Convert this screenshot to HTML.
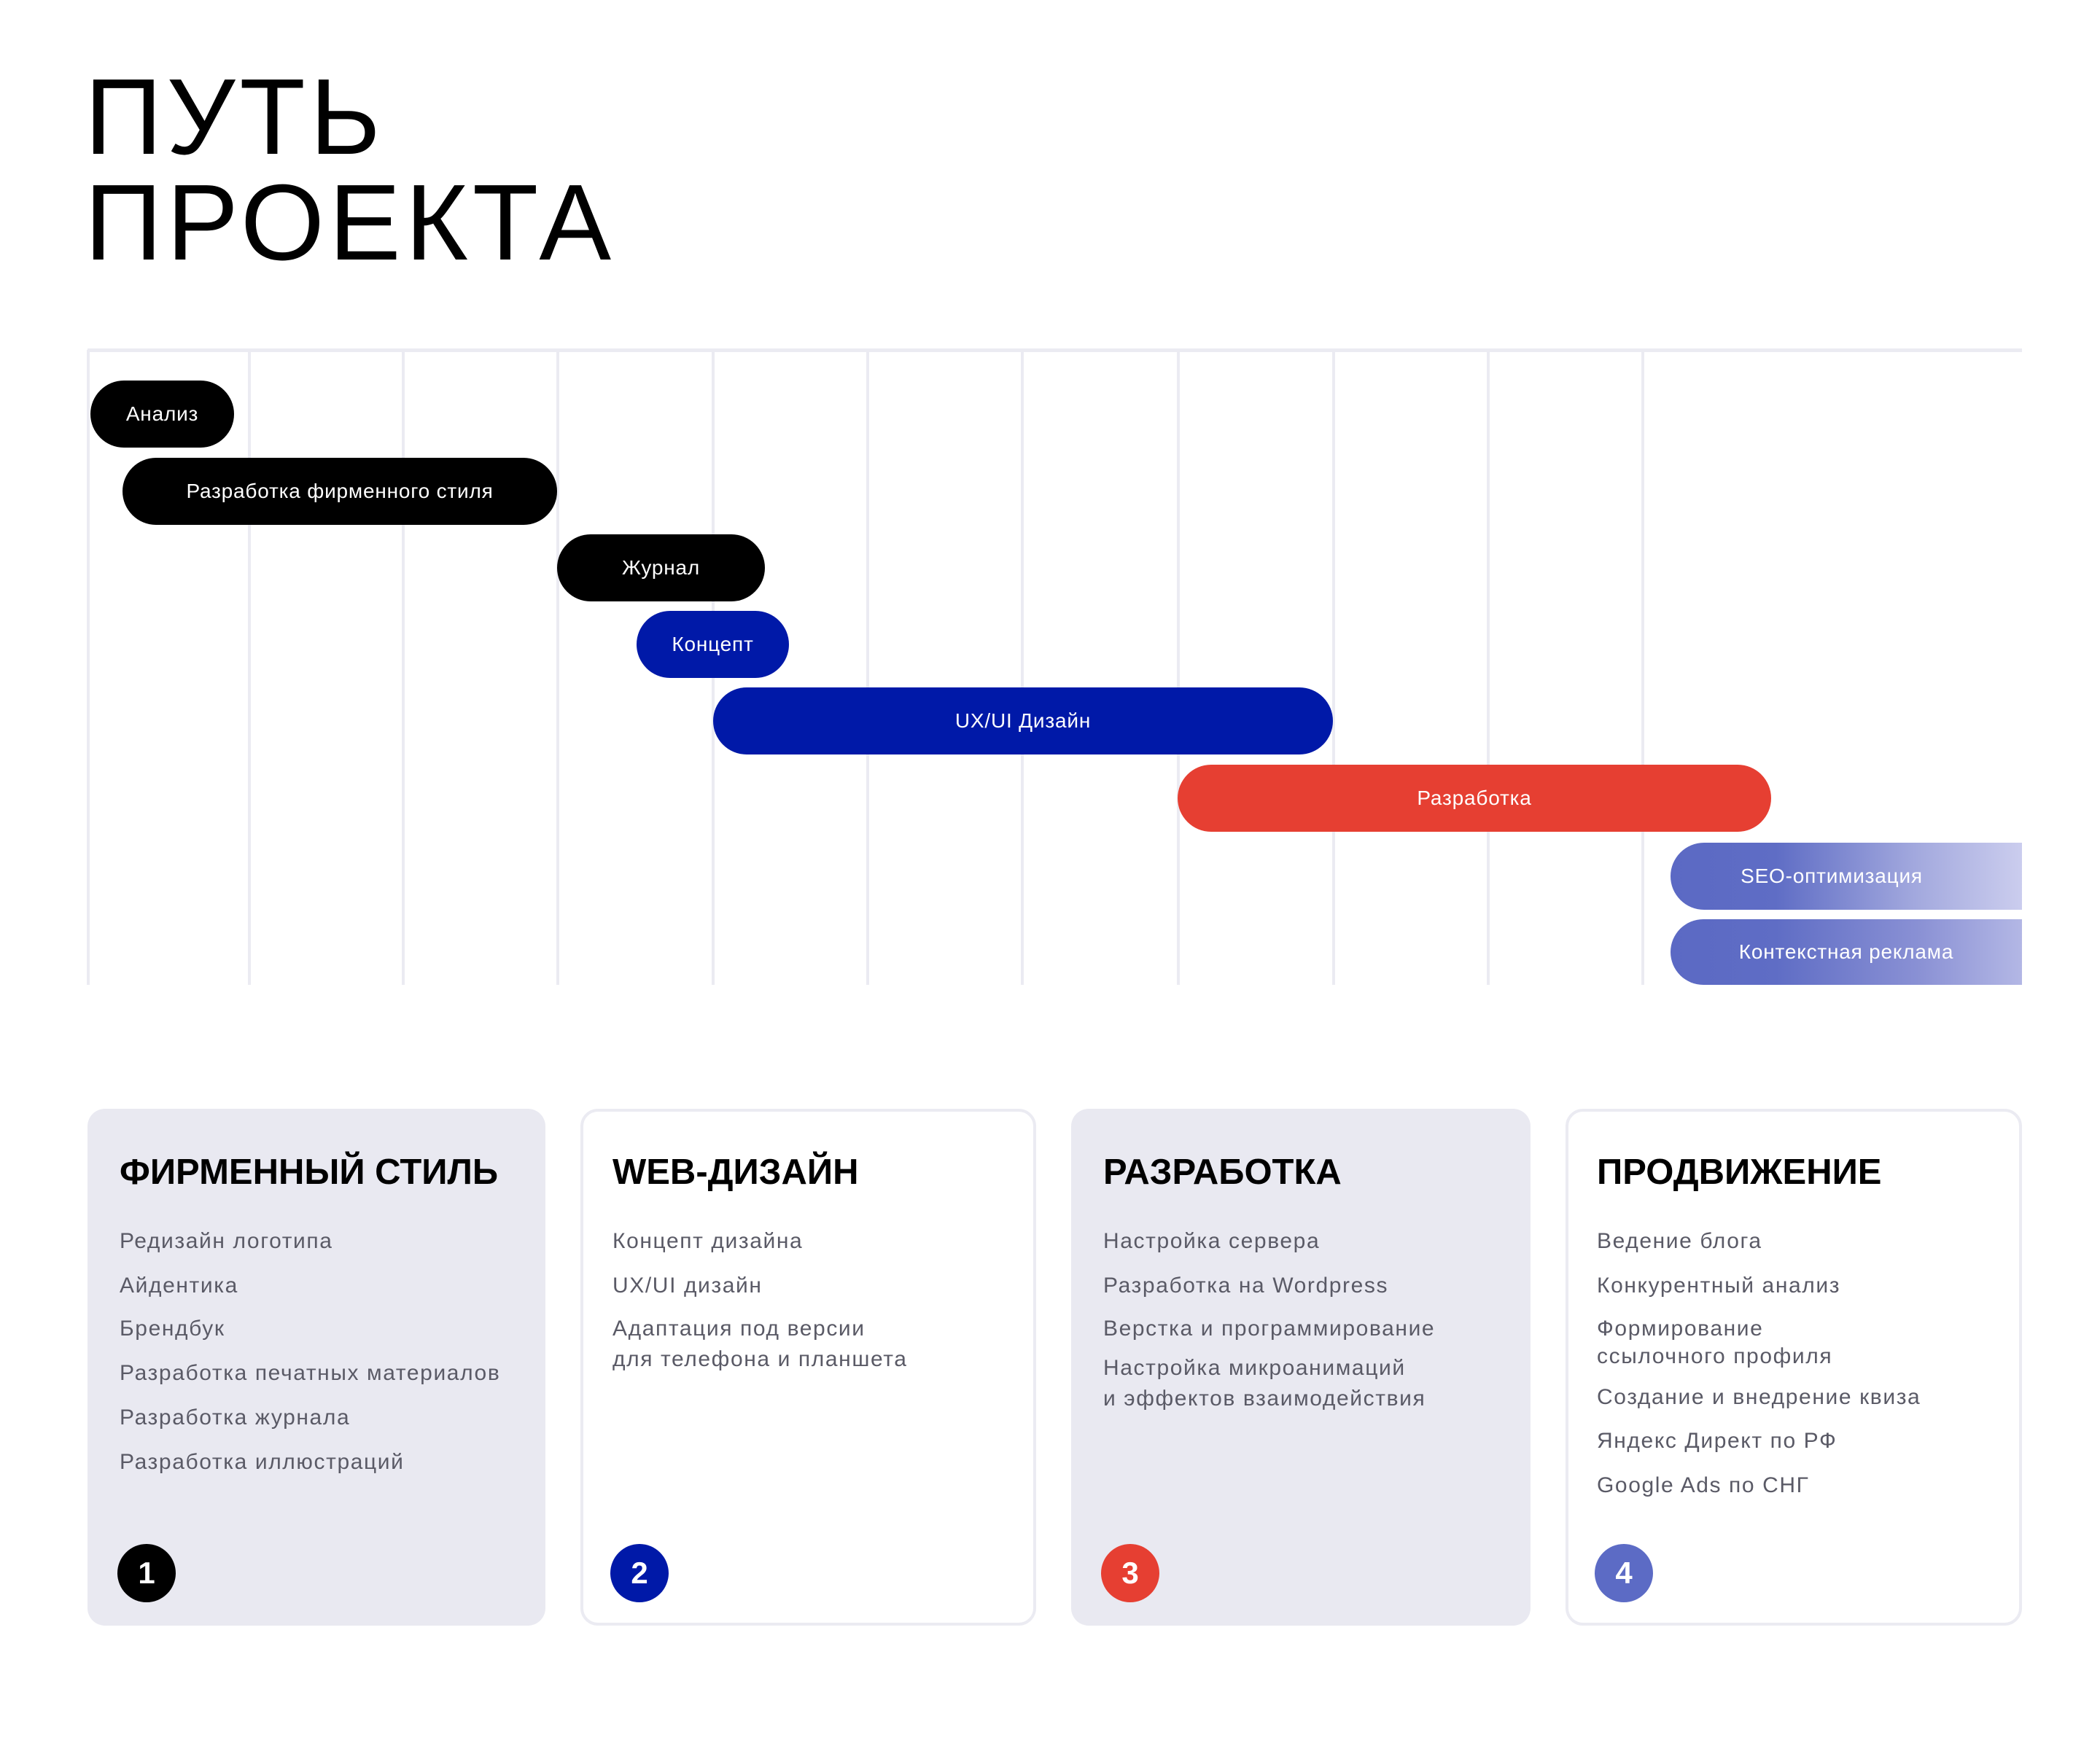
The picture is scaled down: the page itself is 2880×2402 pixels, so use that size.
<!DOCTYPE html>
<html><head><meta charset="utf-8"><style>
*{margin:0;padding:0;box-sizing:border-box}
body{width:2880px;height:2402px;background:#fff;position:relative;overflow:hidden;font-family:"Liberation Sans","DejaVu Sans",sans-serif}
.a{position:absolute;line-height:1;white-space:nowrap}
.t{font-size:148px;color:#000;left:116px;letter-spacing:6px}
.vl{position:absolute;top:480px;width:4px;height:871px;background:#ebebf2}
.bar{position:absolute;height:92px;border-radius:46px;color:#fff;font-size:28px;letter-spacing:0.8px;display:flex;align-items:center;justify-content:center}
.card{position:absolute;top:1521px;height:709px;border-radius:24px}
.g{background:#e9e9f1}
.w{background:#fff;border:4px solid #ebebf2}
.h{font-size:49px;font-weight:bold;color:#000}
.i{font-size:30px;color:#5a5a66;letter-spacing:1.6px}
.c{position:absolute;width:80px;height:80px;border-radius:40px;color:#fff;font-size:42px;font-weight:bold;display:flex;align-items:center;justify-content:center;top:2118px}
</style></head><body>
<div class="a t" style="top:87px">ПУТЬ</div>
<div class="a t" style="top:232px">ПРОЕКТА</div>

<div style="position:absolute;left:120px;top:478px;width:2653px;height:5px;background:#ebebf2"></div>
<div class="vl" style="left:119px"></div>
<div class="vl" style="left:340px"></div>
<div class="vl" style="left:551px"></div>
<div class="vl" style="left:763px"></div>
<div class="vl" style="left:976px"></div>
<div class="vl" style="left:1188px"></div>
<div class="vl" style="left:1400px"></div>
<div class="vl" style="left:1614px"></div>
<div class="vl" style="left:1827px"></div>
<div class="vl" style="left:2039px"></div>
<div class="vl" style="left:2251px"></div>

<div class="bar" style="left:124px;width:197px;top:522px;background:#000">Анализ</div>
<div class="bar" style="left:168px;width:596px;top:628px;background:#000">Разработка фирменного стиля</div>
<div class="bar" style="left:764px;width:285px;top:733px;background:#000">Журнал</div>
<div class="bar" style="left:873px;width:209px;top:838px;background:#0019a8">Концепт</div>
<div class="bar" style="left:978px;width:850px;top:943px;background:#0019a8">UX/UI Дизайн</div>
<div class="bar" style="left:1615px;width:814px;top:1049px;background:#e63f32">Разработка</div>
<div class="bar" style="left:2291px;width:482px;top:1156px;border-radius:46px 0 0 46px;background:linear-gradient(90deg,#5b69c4 0%,#5f6dc5 30%,#a3a9de 70%,#cbcdee 100%)"><span style="margin-left:-40px">SEO-оптимизация</span></div>
<div class="bar" style="left:2291px;width:482px;top:1261px;height:90px;border-radius:46px 0 0 46px;background:linear-gradient(90deg,#5b69c4 0%,#5f6dc5 30%,#8990d4 70%,#b3b7e5 100%)"><span style="margin-left:0">Контекстная реклама</span></div>

<div class="card g" style="left:120px;width:628px"></div>
<div class="card w" style="left:796px;width:625px"></div>
<div class="card g" style="left:1469px;width:630px"></div>
<div class="card w" style="left:2147px;width:626px"></div>

<div class="a h" style="left:164px;top:1584px">ФИРМЕННЫЙ СТИЛЬ</div>
<div class="a i" style="left:164px;top:1688px">Редизайн логотипа</div>
<div class="a i" style="left:164px;top:1749px">Айдентика</div>
<div class="a i" style="left:164px;top:1808px">Брендбук</div>
<div class="a i" style="left:164px;top:1869px">Разработка печатных материалов</div>
<div class="a i" style="left:164px;top:1930px">Разработка журнала</div>
<div class="a i" style="left:164px;top:1991px">Разработка иллюстраций</div>
<div class="c" style="left:161px;background:#000">1</div>

<div class="a h" style="left:840px;top:1584px">WEB-ДИЗАЙН</div>
<div class="a i" style="left:840px;top:1688px">Концепт дизайна</div>
<div class="a i" style="left:840px;top:1749px">UX/UI дизайн</div>
<div class="a i" style="left:840px;top:1808px">Адаптация под версии</div>
<div class="a i" style="left:840px;top:1850px">для телефона и планшета</div>
<div class="c" style="left:837px;background:#0019a8">2</div>

<div class="a h" style="left:1513px;top:1584px">РАЗРАБОТКА</div>
<div class="a i" style="left:1513px;top:1688px">Настройка сервера</div>
<div class="a i" style="left:1513px;top:1749px">Разработка на Wordpress</div>
<div class="a i" style="left:1513px;top:1808px">Верстка и программирование</div>
<div class="a i" style="left:1513px;top:1862px">Настройка микроанимаций</div>
<div class="a i" style="left:1513px;top:1904px">и эффектов взаимодействия</div>
<div class="c" style="left:1510px;background:#e63f32">3</div>

<div class="a h" style="left:2190px;top:1584px">ПРОДВИЖЕНИЕ</div>
<div class="a i" style="left:2190px;top:1688px">Ведение блога</div>
<div class="a i" style="left:2190px;top:1749px">Конкурентный анализ</div>
<div class="a i" style="left:2190px;top:1808px">Формирование</div>
<div class="a i" style="left:2190px;top:1846px">ссылочного профиля</div>
<div class="a i" style="left:2190px;top:1902px">Создание и внедрение квиза</div>
<div class="a i" style="left:2190px;top:1962px">Яндекс Директ по РФ</div>
<div class="a i" style="left:2190px;top:2023px">Google Ads по СНГ</div>
<div class="c" style="left:2187px;background:#5c6bc5">4</div>
</body></html>
